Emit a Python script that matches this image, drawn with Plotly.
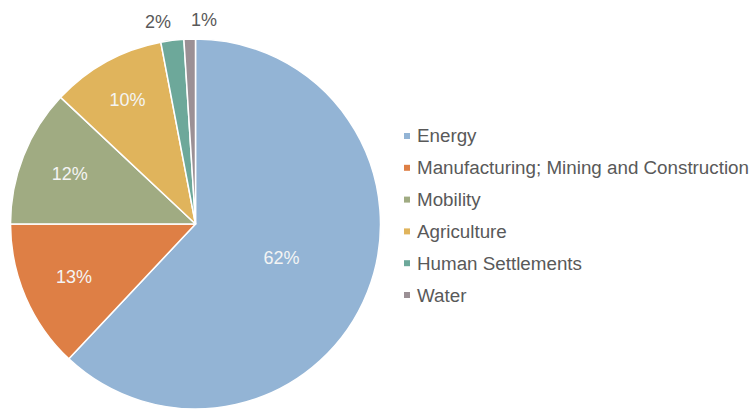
import math
import plotly.graph_objects as go

# Share of total by sector (percent)
sectors = ["Energy", "Manufacturing; Mining and Construction", "Mobility",
           "Agriculture", "Human Settlements", "Water"]
shares = [62, 13, 12, 10, 2, 1]
colors = ["#93B4D5", "#DE7F45", "#A0AB82", "#E0B45C", "#6DA89A", "#9B9095"]
# Small slices get their labels outside the pie, nudged apart sideways
outside_label = [False, False, False, False, True, True]
outside_nudge = [0, 0, 0, 0, -12, 15]

W, H = 753, 410
cx, cy, r = 195.5, 224.0, 185.0
FONT = "Liberation Sans, Arial"
TEXT_GREY = "#595959"

fig = go.Figure()
fig.add_trace(go.Pie(
    labels=sectors,
    values=shares,
    sort=False,
    direction="clockwise",
    rotation=0,
    marker=dict(colors=colors, line=dict(color="white", width=1.5)),
    texttemplate=["" if o else "%{value}%" for o in outside_label],
    textposition="inside",
    insidetextorientation="horizontal",
    insidetextfont=dict(color="#F4F4F4", size=18, family=FONT),
    showlegend=False,
    hoverinfo="label+percent",
    domain=dict(x=[(cx - r) / W, (cx + r) / W],
                y=[max(0.0, (H - cy - r) / H), (H - cy + r) / H]),
))

# Outside labels for the thin slices, placed at each slice's mid-angle
total = sum(shares)
cum = 0.0
for val, out, nudge in zip(shares, outside_label, outside_nudge):
    mid = (cum + val / 2) / total * 2 * math.pi
    cum += val
    if not out:
        continue
    rr = r + 19
    px = cx + rr * math.sin(mid) + nudge
    py = cy - rr * math.cos(mid)
    fig.add_annotation(
        x=px / W, y=(H - py) / H, xref="paper", yref="paper",
        text=f"{val}%", showarrow=False,
        font=dict(size=18, color=TEXT_GREY, family=FONT),
        xanchor="center", yanchor="middle",
    )

# Legend: small square swatch followed by the sector name, one row each
legend_x, legend_top, row_step, sw = 404, 136, 31.8, 6
for i, (name, col) in enumerate(zip(sectors, colors)):
    yc = legend_top + i * row_step
    fig.add_shape(
        type="rect", xref="paper", yref="paper",
        x0=legend_x / W, x1=(legend_x + sw) / W,
        y0=(H - yc - sw / 2) / H, y1=(H - yc + sw / 2) / H,
        fillcolor=col, line=dict(width=0),
    )
    fig.add_annotation(
        x=(legend_x + sw + 5) / W, y=(H - yc) / H, xref="paper", yref="paper",
        text=name, showarrow=False,
        font=dict(size=18.8, color=TEXT_GREY, family=FONT),
        xanchor="left", yanchor="middle",
    )

fig.update_layout(
    width=W, height=H,
    margin=dict(l=0, r=0, t=0, b=0),
    paper_bgcolor="white",
    plot_bgcolor="white",
    font=dict(family=FONT, size=18, color=TEXT_GREY),
    showlegend=False,
)

fig.write_html("out.html")
